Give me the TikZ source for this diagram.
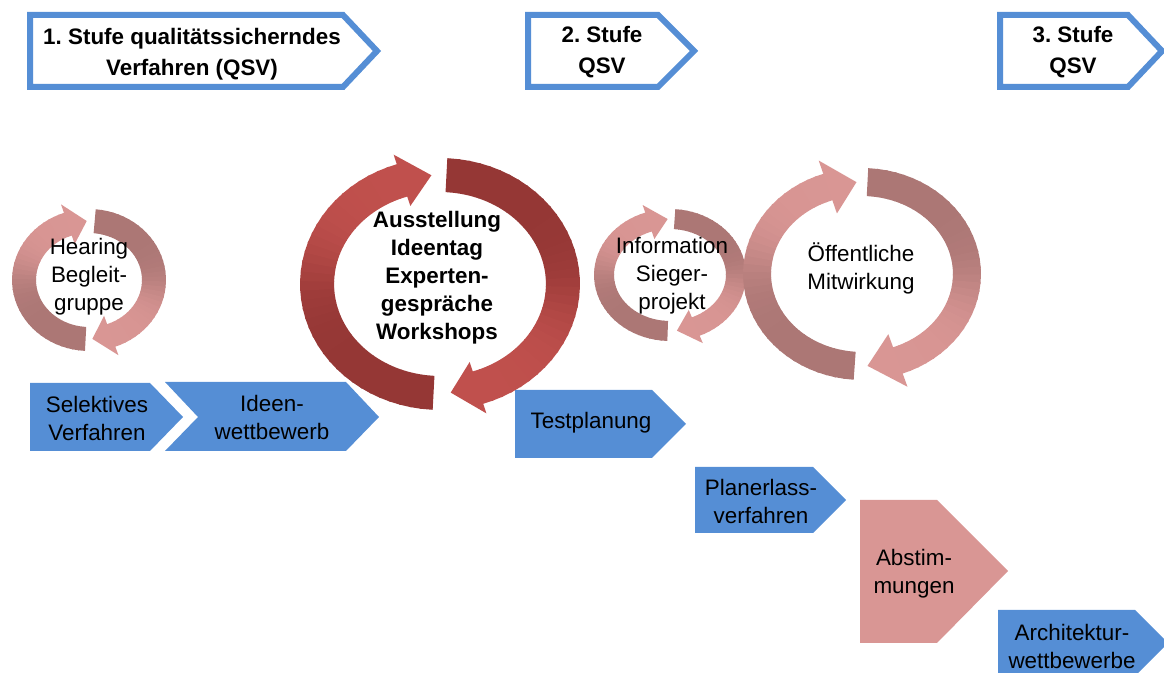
\documentclass[tikz,border=0pt]{standalone}
\usepackage{fontspec}
\setmainfont{Liberation Sans}
\usepackage{tikz}
\usepackage{xcolor}
\frenchspacing

\definecolor{qsvblue}{HTML}{558ED5}
\definecolor{ringred}{HTML}{C0504D}
\definecolor{ringreddark}{HTML}{953735}
\definecolor{ringpink}{HTML}{D99694}
\definecolor{ringpinkdark}{HTML}{AC7775}

\newcommand{\ringarrow}[7]{%
  \foreach \k in {1,...,36}{%
    \pgfmathsetmacro{\ta}{#5+(#6-#5)*(\k-1)/36}%
    \pgfmathsetmacro{\tb}{#5+(#6-#5)*\k/36+0.8}%
    \pgfmathtruncatemacro{\mixp}{100/(1+exp(-((\k-0.5)/36-0.6)/0.07))}%
    \fill[ringlight!\mixp!ringdark] ({(#1+#3)*cos(\ta)},{(#2+#3)*sin(\ta)}) -- ({(#1+#3)*cos(\tb)},{(#2+#3)*sin(\tb)}) -- ({(#1-#3)*cos(\tb)},{(#2-#3)*sin(\tb)}) -- ({(#1-#3)*cos(\ta)},{(#2-#3)*sin(\ta)}) -- cycle;
  }%
  \fill[ringlight] ({(#1+#4)*cos(#6)},{(#2+#4)*sin(#6)}) -- ({#1*cos(#7)},{#2*sin(#7)}) -- ({(#1-#4)*cos(#6)},{(#2-#4)*sin(#6)}) -- cycle;
}

\begin{document}
\begin{tikzpicture}[x=0.5pt,y=-0.5pt,
    stagebox/.style={draw=qsvblue,line width=3pt,fill=white},
    stagetext/.style={align=center,font=\fontsize{11.2}{15.5}\selectfont\bfseries},
    bluebox/.style={fill=qsvblue},
    pinkbox/.style={fill=ringpink},
    boxtext/.style={align=center,font=\fontsize{11.2}{14}\selectfont},
    ringtext/.style={align=center,font=\fontsize{11.2}{14}\selectfont}]
  \useasboundingbox (0,0) rectangle (1164,673);

  \draw[stagebox] (30,15) -- (343,15) -- (377,51) -- (343,87) -- (30,87) -- cycle;
  \draw[stagebox] (528,15) -- (658,15) -- (694,51) -- (658,87) -- (528,87) -- cycle;
  \draw[stagebox] (1000,15) -- (1128,15) -- (1162,51) -- (1128,87) -- (1000,87) -- cycle;
  \node[stagetext] (stage1) at (192,54) {1. Stufe qualitätssicherndes\\Verfahren (QSV)};
  \node[stagetext] (stage2) at (602,52) {2. Stufe\\QSV};
  \node[stagetext] (stage3) at (1073,52) {3. Stufe\\QSV};

  \fill[bluebox] (30,383) -- (150,383) -- (183,417) -- (150,451) -- (30,451) -- cycle;
  \fill[bluebox] (165,382) -- (346,382) -- (379,417) -- (346,451) -- (165,451) -- (198,417) -- cycle;
  \fill[bluebox] (515,390) -- (652,390) -- (686,424) -- (652,458) -- (515,458) -- cycle;
  \fill[bluebox] (695,467) -- (813,467) -- (846,500) -- (813,533) -- (695,533) -- cycle;
  \fill[pinkbox] (860,500) -- (937,500) -- (1008,571) -- (937,643) -- (860,643) -- cycle;
  \fill[bluebox] (998,610) -- (1135,610) -- (1168,643) -- (1135,676) -- (998,676) -- cycle;

  \begin{scope}[shift={(89,280)}]
    \colorlet{ringdark}{ringpinkdark}\colorlet{ringlight}{ringpink}
    \ringarrow{65}{59}{12}{21}{275}{430}{447}
    \ringarrow{65}{59}{12}{21}{93}{251}{268}
  \end{scope}
  \begin{scope}[shift={(440,284)}]
    \colorlet{ringdark}{ringreddark}\colorlet{ringlight}{ringred}
    \ringarrow{123}{109}{17}{27}{273}{432}{445}
    \ringarrow{123}{109}{17}{27}{93}{252}{266}
  \end{scope}
  \begin{scope}[shift={(670,275)}]
    \colorlet{ringdark}{ringpinkdark}\colorlet{ringlight}{ringpink}
    \ringarrow{66}{56}{10}{18}{274}{427}{444}
    \ringarrow{66}{56}{10}{18}{92}{251}{268}
  \end{scope}
  \begin{scope}[shift={(862,274)}]
    \colorlet{ringdark}{ringpinkdark}\colorlet{ringlight}{ringpink}
    \ringarrow{105}{92}{14}{28}{273}{430}{447}
    \ringarrow{105}{92}{14}{28}{94}{251}{267}
  \end{scope}

  \node[boxtext] (selektiv) at (97,418) {Selektives\\Verfahren};
  \node[boxtext] (ideen) at (272,417) {Ideen-\\wettbewerb};
  \node[boxtext] (test) at (591,423) {Testplanung};
  \node[boxtext] (planer) at (761,501) {Planerlass-\\verfahren};
  \node[boxtext] (abstimm) at (914,574) {Abstim-\\mungen};
  \node[boxtext] (archi) at (1072,646) {Architektur-\\wettbewerbe};

  \node[ringtext] (hearing) at (89,277) {Hearing\\Begleit-\\gruppe};
  \node[ringtext,font=\fontsize{11.2}{14}\selectfont\bfseries] (ausst) at (437,278) {Ausstellung\\Ideentag\\Experten-\\gespräche\\Workshops};
  \node[ringtext] (info) at (672,276) {Information\\Sieger-\\projekt};
  \node[ringtext] (oeff) at (861,268) {Öffentliche\\Mitwirkung};
\end{tikzpicture}
\end{document}
